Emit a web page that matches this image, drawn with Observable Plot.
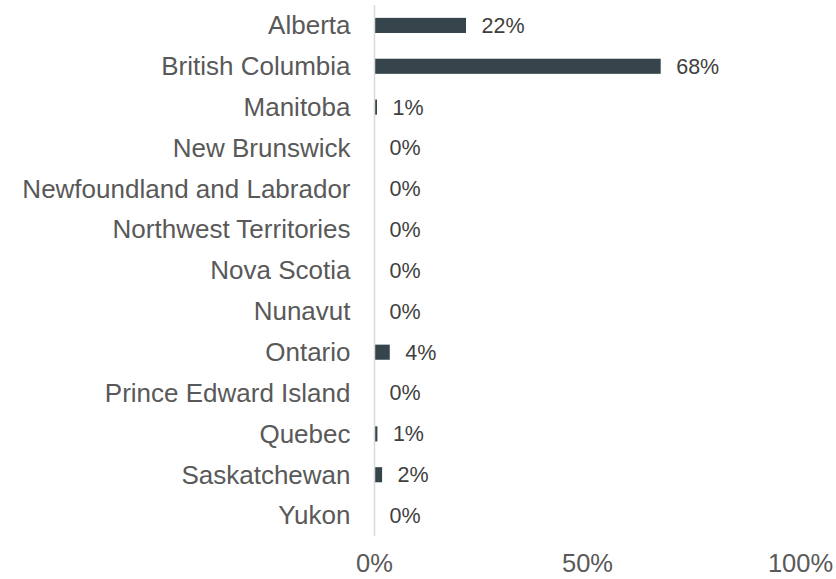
<!DOCTYPE html>
<html>
<head>
<meta charset="utf-8">
<script src="https://cdn.jsdelivr.net/npm/d3@7"></script>
<script src="https://cdn.jsdelivr.net/npm/@observablehq/plot@0.6"></script>
<style>
  html, body { margin: 0; padding: 0; background: #fff; }
  #chart svg { display: block; }
</style>
</head>
<body>
<div id="chart"></div>
<script>
const provinces = ["Alberta","British Columbia","Manitoba","New Brunswick","Newfoundland and Labrador","Northwest Territories","Nova Scotia","Nunavut","Ontario","Prince Edward Island","Quebec","Saskatchewan","Yukon"];
const shares = [21.6, 67.3, 0.7, 0, 0, 0, 0, 0, 3.7, 0, 0.8, 1.9, 0];
const shareLabels = ["22%","68%","1%","0%","0%","0%","0%","0%","4%","0%","1%","2%","0%"];
const xTicks = [0, 50, 100];

const data = provinces.map((p, i) => ({province: p, share: shares[i], label: shareLabels[i]}));

const chart = Plot.plot({
  width: 836,
  height: 579,
  marginLeft: 374,
  marginRight: 36,
  marginTop: 5,
  marginBottom: 43,
  style: {fontFamily: "'Liberation Sans', Arial, sans-serif", background: "#fff"},
  x: {domain: [0, 100], ticks: xTicks, tickFormat: d => d + "%"},
  y: {domain: provinces, paddingInner: 0.63, paddingOuter: 0.315, round: false},
  marks: [
    Plot.barX(data, {x: "share", y: "province", fill: "#36454b"}),
    Plot.ruleX([0], {stroke: "#d9d9d9", strokeWidth: 1.5}),
    Plot.text(data, {x: "share", y: "province", text: "label", textAnchor: "start", dx: 15, fontSize: 21.5, fill: "#404040"}),
    Plot.axisY({tickSize: 0, tickPadding: 24, fontSize: 26, color: "#595959", label: null}),
    Plot.axisX({ticks: xTicks, tickFormat: d => d + "%", tickSize: 0, tickPadding: 17, fontSize: 25.5, color: "#595959", label: null})
  ]
});
document.getElementById("chart").appendChild(chart);
</script>
</body>
</html>
